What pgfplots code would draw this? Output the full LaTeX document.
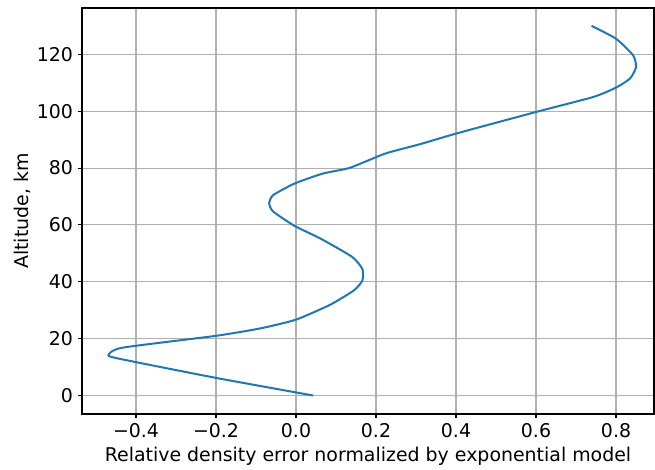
\documentclass[border=0pt]{standalone}
\usepackage{fontspec}
\setmainfont{DejaVu Sans}
\usepackage{pgfplots}
\pgfplotsset{compat=1.18}

\definecolor{mplblue}{HTML}{1F77B4}
\definecolor{mplgrid}{HTML}{B0B0B0}

\begin{document}
\begin{tikzpicture}
  \begin{axis}[
      scale only axis,
      width=429pt, height=304.5pt,
      xmin=-0.535, xmax=0.895,
      ymin=-6.5, ymax=136.3,
      xtick={-0.4,-0.2,0,0.2,0.4,0.6,0.8},
      xticklabels={−0.4,−0.2,0.0,0.2,0.4,0.6,0.8},
      ytick={0,20,40,60,80,100,120},
      yticklabels={0,20,40,60,80,100,120},
      tick align=outside,
      tick pos=left,
      major tick length=3.2pt,
      tick style={black, line width=0.8pt},
      axis line style={line width=0.8pt},
      grid=major,
      grid style={mplgrid, line width=0.8pt},
      font=\fontsize{14.2}{16}\selectfont,
      ticklabel style={font=\fontsize{14.2}{16}\selectfont},
      xlabel={Relative density error normalized by exponential model},
      ylabel={Altitude, km},
      xlabel style={at={(axis description cs:0.5,-0.103)}, anchor=center},
      ylabel style={at={(axis description cs:-0.105,0.5)}, anchor=center},
  ]
  % piecewise profile
  \addplot[mplblue, line width=1.5pt, smooth, tension=0.35] coordinates {
    (0.043,0)
    (-0.200,6.2)
    (-0.430,12.6)
    (-0.469,14.1)
    (-0.435,16.8)
    (-0.200,21.0)
    (-0.086,23.7)
    (0.000,26.7)
    (0.085,31.9)
    (0.145,37.0)
    (0.166,40.5)
    (0.166,44.5)
    (0.140,48.8)
    (0.060,55.3)
    (-0.003,59.6)
    (-0.057,64.7)
    (-0.067,67.6)
    (-0.057,70.5)
    (-0.003,74.6)
    (0.068,78.1)
    (0.135,80.1)
    (0.223,85.1)
    (0.310,88.4)
    (0.402,92.2)
    (0.602,99.8)
    (0.743,105.0)
    (0.800,108.3)
    (0.835,111.5)
    (0.850,115.5)
    (0.843,119.6)
    (0.800,125.5)
    (0.739,130.0)
  };
  \end{axis}
  \path ([xshift=-61.5pt,yshift=-40.5pt]current axis.south west) rectangle ++(491.25pt,351pt);
\end{tikzpicture}
\end{document}
